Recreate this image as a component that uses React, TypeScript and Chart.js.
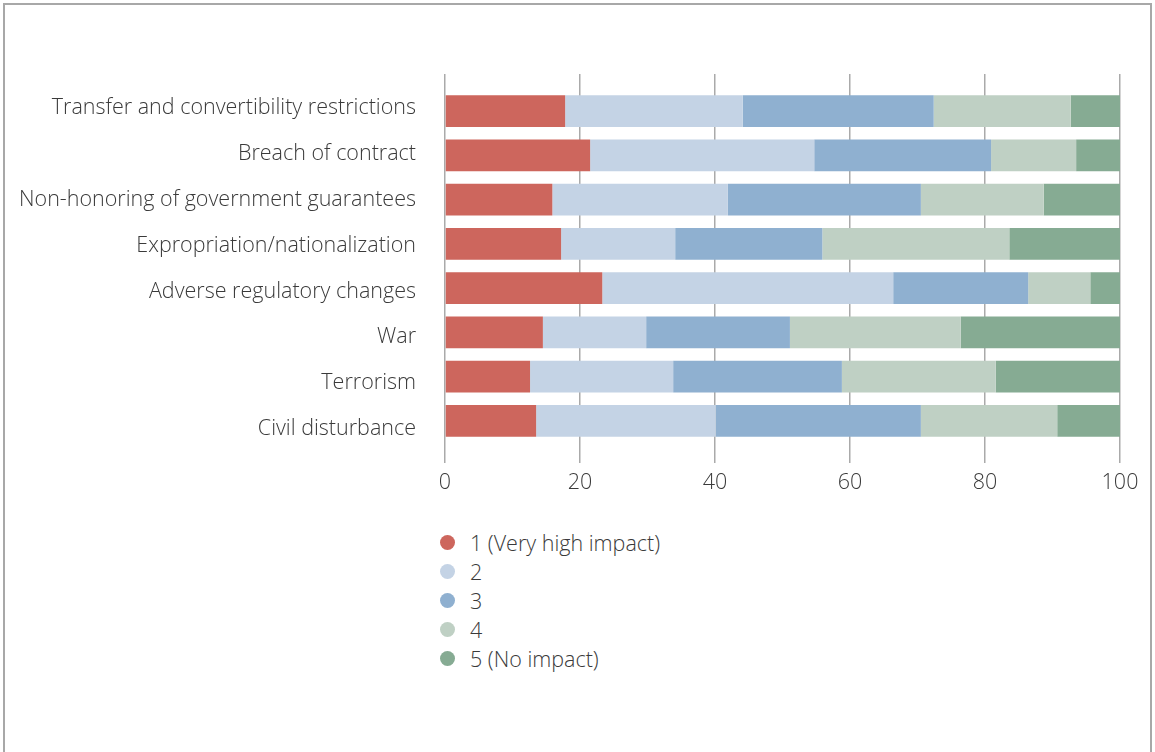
import React, { useEffect, useRef } from 'react';
import { Chart, registerables } from 'chart.js';
Chart.register(...registerables);

const categories = [
  'Transfer and convertibility restrictions',
  'Breach of contract',
  'Non-honoring of government guarantees',
  'Expropriation/nationalization',
  'Adverse regulatory changes',
  'War',
  'Terrorism',
  'Civil disturbance',
];
const seriesLabels = ['1 (Very high impact)', '2', '3', '4', '5 (No impact)'];
const seriesColors = ['#CD665D', '#C4D3E5', '#8FB0D0', '#BFD0C4', '#86AB93'];
const impact1 = [17.8, 21.5, 15.9, 17.2, 23.3, 14.5, 12.6, 13.5];
const impact2 = [26.3, 33.2, 26.0, 16.9, 43.1, 15.3, 21.2, 26.6];
const impact3 = [28.3, 26.2, 28.6, 21.8, 20.0, 21.3, 25.0, 30.4];
const impact4 = [20.3, 12.6, 18.2, 27.7, 9.2, 25.3, 22.8, 20.2];
const impact5 = [7.3, 6.5, 11.3, 16.4, 4.4, 23.6, 18.4, 9.3];
const seriesValues = [impact1, impact2, impact3, impact4, impact5];
const xTicks = [0, 20, 40, 60, 80, 100];

const FONT = '"Open Sans", "DejaVu Sans", sans-serif';
const FONT_SIZE = 21.5;
const TEXT = '#3a3a3a';
const GRID = '#aaaaaa';
const LABEL_MIN = -0.414;
const LABEL_MAX = 7.305;

export default function App() {
  const ref = useRef<HTMLCanvasElement | null>(null);
  useEffect(() => {
    if (!ref.current) return;
    const chart = new Chart(ref.current, {
      type: 'bar',
      data: {
        labels: categories,
        datasets: seriesLabels.map((label, i) => ({
          label,
          data: seriesValues[i],
          backgroundColor: seriesColors[i],
          borderWidth: 0,
          barPercentage: 0.72,
          categoryPercentage: 1,
          xAxisID: 'x',
          yAxisID: 'y',
        })),
      },
      options: {
        indexAxis: 'y',
        responsive: false,
        animation: false,
        layout: { padding: { top: 74, right: 35, bottom: 6, left: 0 } },
        plugins: { legend: { display: false }, tooltip: { enabled: false } },
        scales: {
          x: {
            type: 'linear',
            position: 'bottom',
            stacked: true,
            min: 0,
            max: 100,
            afterBuildTicks: (s: any) => {
              s.ticks = xTicks.map((v) => ({ value: v }));
            },
            afterFit: (s: any) => {
              s.height = 51;
            },
            ticks: {
              padding: 7,
              color: TEXT,
              font: { family: FONT, size: FONT_SIZE, weight: '300' as any },
            },
            grid: { color: GRID, lineWidth: 1.5, tickLength: 20, drawTicks: true },
            border: { display: false },
          },
          xTop: {
            type: 'linear',
            position: 'top',
            min: 0,
            max: 100,
            afterBuildTicks: (s: any) => {
              s.ticks = xTicks.map((v) => ({ value: v }));
            },
            afterFit: (s: any) => {
              s.height = 15;
            },
            ticks: { display: false },
            grid: { color: GRID, lineWidth: 1.5, tickLength: 15, drawOnChartArea: false },
            border: { display: false },
          },
          y: {
            type: 'category',
            stacked: true,
            position: 'left',
            display: false,
          },
          yLabels: {
            type: 'linear',
            position: 'left',
            reverse: true,
            offset: false,
            bounds: 'data',
            min: LABEL_MIN,
            max: LABEL_MAX,
            afterBuildTicks: (s: any) => {
              s.ticks = categories.map((_, i) => ({ value: i }));
            },
            afterFit: (s: any) => {
              s.width = 445;
            },
            ticks: {
              padding: 29,
              color: TEXT,
              callback: (v: any) => categories[Number(v)] ?? '',
              font: { family: FONT, size: FONT_SIZE, weight: '300' as any },
            },
            grid: { display: false, drawTicks: false, offset: false },
            border: { display: false },
          },
        },
      },
    });
    return () => chart.destroy();
  }, []);

  return (
    <div>
      <div
        style={{
          position: 'absolute',
          left: 3,
          top: 3,
          width: 1149,
          height: 800,
          boxSizing: 'border-box',
          borderLeft: '2px solid #a8a8a8',
          borderTop: '2px solid #a8a8a8',
          borderRight: '2px solid #a8a8a8',
        }}
      />
      <canvas
        ref={ref}
        width={1155}
        height={500}
        style={{ position: 'absolute', left: 0, top: 0, width: 1155, height: 500 }}
      />
      <div
        style={{
          position: 'absolute',
          left: 440,
          top: 528,
          fontFamily: FONT,
          fontWeight: 300,
          fontSize: FONT_SIZE,
          color: TEXT,
        }}
      >
        {seriesLabels.map((label, i) => (
          <div key={label} style={{ display: 'flex', alignItems: 'center', height: 29 }}>
            <span
              style={{
                display: 'inline-block',
                width: 15,
                height: 15,
                borderRadius: '50%',
                background: seriesColors[i],
                marginRight: 15,
              }}
            />
            <span>{label}</span>
          </div>
        ))}
      </div>
    </div>
  );
}
